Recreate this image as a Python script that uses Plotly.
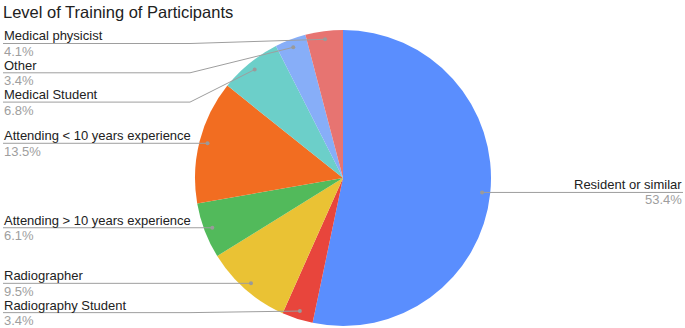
import math
import plotly.graph_objects as go

# ---- data ----
categories = ["Resident or similar", "Radiography Student", "Radiographer",
              "Attending > 10 years experience", "Attending < 10 years experience",
              "Medical Student", "Other", "Medical physicist"]
percentages = [53.4, 3.4, 9.5, 6.1, 13.5, 6.8, 3.4, 4.1]
colors = ["#5A8EFE", "#E8453C", "#EAC234", "#52BA5B", "#F26D21",
          "#6CCFC9", "#87AEF8", "#E77471"]
title_text = "Level of Training of Participants"

# ---- layout constants (pixels) ----
W, H = 685, 328
CX, CY, R = 343, 178, 148
DOT_R = 0.945 * R
LEFT_X, RIGHT_X = 3, 683
ELBOW_X = 190
MIN_GAP = 29.3
MIN_Y = 43.5
FONT = "Arial, 'Liberation Sans', sans-serif"

def px(x):
    return x / W

def py(y):
    return 1 - y / H

fig = go.Figure()
fig.add_trace(go.Pie(
    labels=categories, values=percentages, sort=False, direction="clockwise",
    rotation=0, textinfo="none", hoverinfo="label+percent",
    marker=dict(colors=colors, line=dict(width=0)),
    domain=dict(x=[px(CX - R), px(CX + R)], y=[py(CY + R), py(CY - R)]),
    showlegend=False,
))

total = sum(percentages)
cum = 0.0
dots = []
for cat, v in zip(categories, percentages):
    mid = (cum + v / 2) / total * 2 * math.pi
    cum += v
    dx = CX + DOT_R * math.sin(mid)
    dy = CY - DOT_R * math.cos(mid)
    dots.append((cat, v, dx, dy))

shapes = []
annotations = []

right = [d for d in dots if d[2] >= CX]
left = [d for d in dots if d[2] < CX]

def place(items):
    items = sorted(items, key=lambda d: d[3])
    out = []
    last = -1e9
    for d in items:
        y = max(d[3], MIN_Y, last + MIN_GAP)
        out.append((d, y))
        last = y
    return out

line_col = "#9E9E9E"

def dot(dx, dy):
    return dict(type="circle", xref="paper", yref="paper",
                x0=px(dx - 2), x1=px(dx + 2), y0=py(dy + 2), y1=py(dy - 2),
                fillcolor="#9A9A9A", line=dict(width=0), layer="above")

for (cat, v, dx, dy), ly in place(left):
    if abs(ly - dy) < 0.5:
        path = f"M {px(LEFT_X)},{py(ly)} L {px(dx)},{py(dy)}"
    else:
        path = f"M {px(LEFT_X)},{py(ly)} L {px(ELBOW_X)},{py(ly)} L {px(dx)},{py(dy)}"
    shapes.append(dict(type="path", xref="paper", yref="paper", path=path,
                       line=dict(color=line_col, width=1), layer="above"))
    shapes.append(dot(dx, dy))
    annotations.append(dict(x=px(LEFT_X - 1), y=py(ly - 7.5), xref="paper", yref="paper",
                            text=cat, showarrow=False, xanchor="left", yanchor="middle",
                            font=dict(family=FONT, size=13, color="#222222")))
    annotations.append(dict(x=px(LEFT_X - 1), y=py(ly + 8), xref="paper", yref="paper",
                            text=f"{v:.1f}%", showarrow=False, xanchor="left", yanchor="middle",
                            font=dict(family=FONT, size=13, color="#9E9E9E")))

for (cat, v, dx, dy), ly in place(right):
    path = f"M {px(dx)},{py(dy)} L {px(RIGHT_X)},{py(ly)}"
    shapes.append(dict(type="path", xref="paper", yref="paper", path=path,
                       line=dict(color=line_col, width=1), layer="above"))
    shapes.append(dot(dx, dy))
    annotations.append(dict(x=px(RIGHT_X + 1), y=py(ly - 8), xref="paper", yref="paper",
                            text=cat, showarrow=False, xanchor="right", yanchor="middle",
                            font=dict(family=FONT, size=13, color="#222222")))
    annotations.append(dict(x=px(RIGHT_X + 1), y=py(ly + 7.5), xref="paper", yref="paper",
                            text=f"{v:.1f}%", showarrow=False, xanchor="right", yanchor="middle",
                            font=dict(family=FONT, size=13, color="#9E9E9E")))

annotations.append(dict(x=px(1), y=py(12), xref="paper", yref="paper", text=title_text,
                        showarrow=False, xanchor="left", yanchor="middle",
                        font=dict(family=FONT, size=16.5, color="#212121")))

fig.update_layout(
    width=W, height=H, autosize=False,
    margin=dict(l=0, r=0, t=0, b=0),
    paper_bgcolor="white", plot_bgcolor="white",
    shapes=shapes, annotations=annotations,
)
fig.write_html("out.html", config={"displayModeBar": False},
               post_script="document.body.style.margin='0';document.body.style.overflow='hidden';")
